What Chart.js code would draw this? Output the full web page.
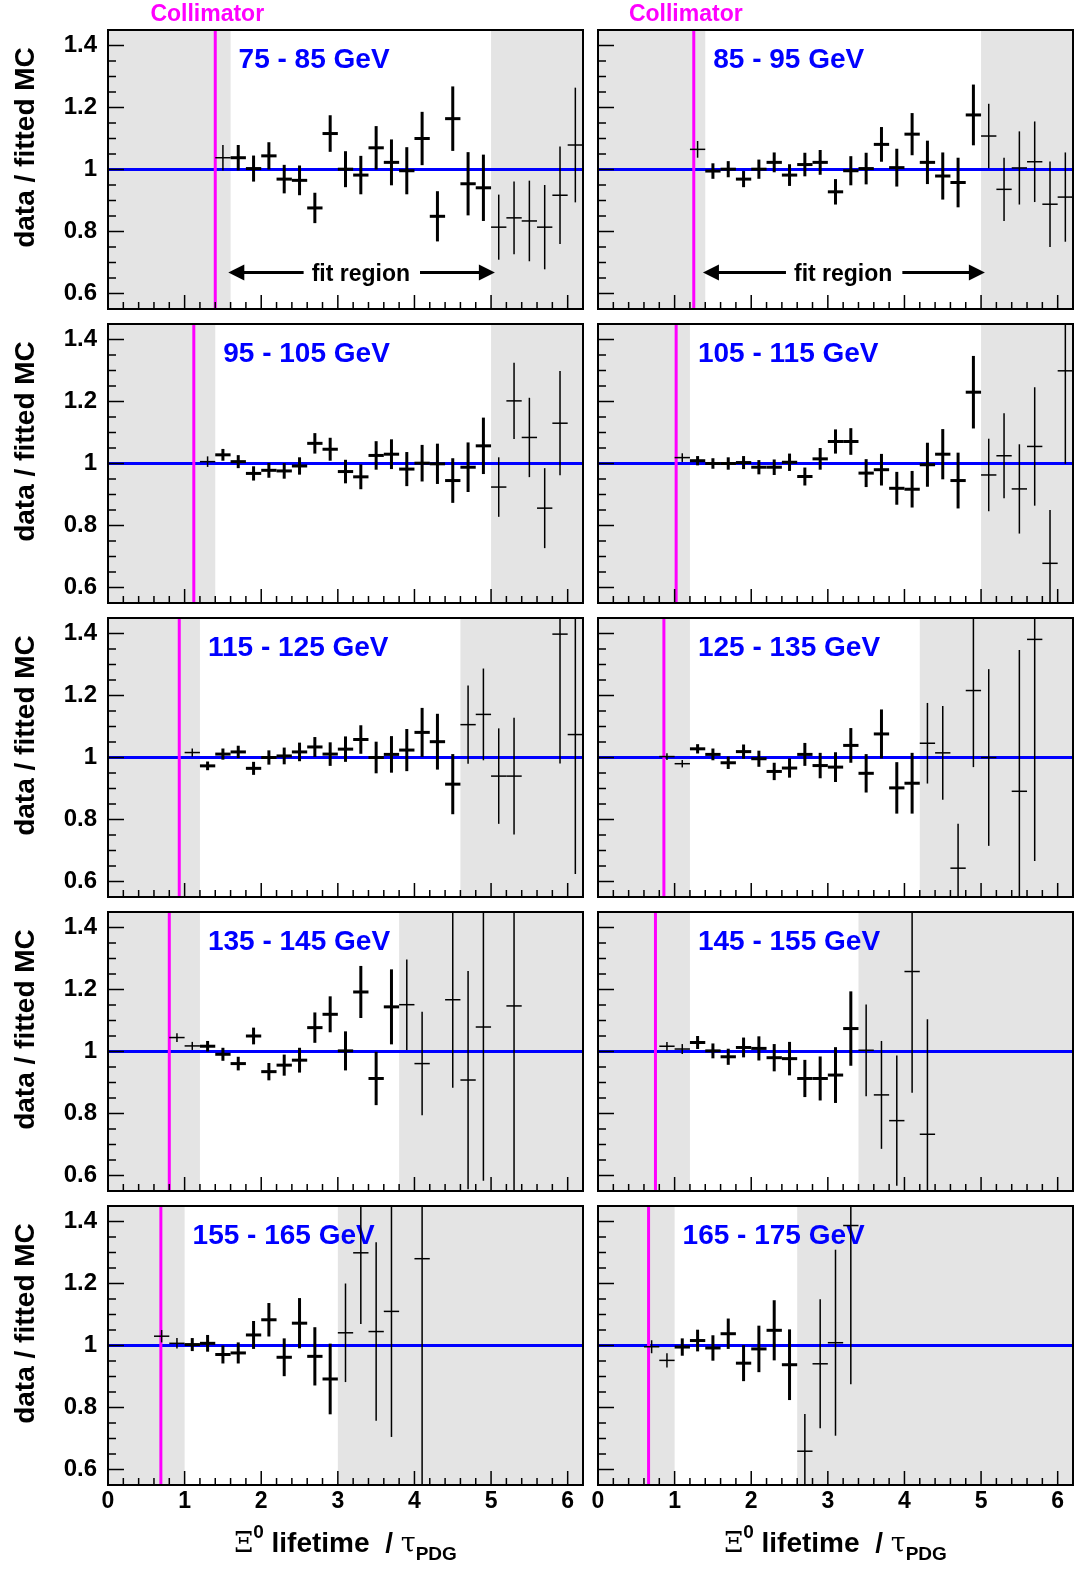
<!DOCTYPE html>
<html>
<head>
<meta charset="utf-8">
<script src="https://cdn.jsdelivr.net/npm/chart.js@4.4.0/dist/chart.umd.min.js"></script>
<style>
  body { margin: 0; background: #fff; width: 1075px; height: 1571px; position: relative; overflow: hidden; }
  canvas { position: absolute; }
</style>
</head>
<body>
<script>
// energy bins, one panel each
const energyBins = ['75 - 85 GeV', '85 - 95 GeV', '95 - 105 GeV', '105 - 115 GeV', '115 - 125 GeV',
                    '125 - 135 GeV', '135 - 145 GeV', '145 - 155 GeV', '155 - 165 GeV', '165 - 175 GeV'];
// collimator position and fit region (in units of tau_PDG)
const collimatorPos = [1.40, 1.25, 1.12, 1.02, 0.93, 0.86, 0.80, 0.75, 0.69, 0.66];
const fitLow  = [1.6, 1.4, 1.4, 1.2, 1.2, 1.2, 1.2, 1.2, 1.0, 1.0];
const fitHigh = [5.0, 5.0, 5.0, 5.0, 4.6, 4.2, 3.8, 3.4, 3.0, 2.6];
const binHalfWidth = 0.1;

const tau75   = [1.5,1.7,1.9,2.1,2.3,2.5,2.7,2.9,3.1,3.3,3.5,3.7,3.9,4.1,4.3,4.5,4.7,4.9,5.1,5.3,5.5,5.7,5.9,6.1];
const ratio75 = [1.038,1.038,1.003,1.044,0.969,0.965,0.876,1.116,1.001,0.982,1.070,1.023,0.996,1.100,0.849,1.164,0.954,0.941,0.814,0.844,0.834,0.814,0.917,1.079];
const err75   = [0.041,0.041,0.042,0.044,0.046,0.048,0.049,0.059,0.058,0.062,0.070,0.074,0.076,0.086,0.081,0.104,0.102,0.107,0.105,0.117,0.130,0.136,0.157,0.185];

const tau85   = [1.3,1.5,1.7,1.9,2.1,2.3,2.5,2.7,2.9,3.1,3.3,3.5,3.7,3.9,4.1,4.3,4.5,4.7,4.9,5.1,5.3,5.5,5.7,5.9,6.1];
const ratio85 = [1.065,0.995,1.001,0.969,1.001,1.023,0.982,1.016,1.023,0.928,0.996,1.003,1.081,1.006,1.114,1.023,0.979,0.958,1.176,1.108,0.936,1.005,1.025,0.888,0.911];
const err85   = [0.027,0.025,0.026,0.026,0.031,0.032,0.035,0.038,0.040,0.041,0.047,0.051,0.056,0.061,0.068,0.070,0.076,0.080,0.098,0.104,0.102,0.118,0.130,0.138,0.144];

const tau95   = [1.3,1.5,1.7,1.9,2.1,2.3,2.5,2.7,2.9,3.1,3.3,3.5,3.7,3.9,4.1,4.3,4.5,4.7,4.9,5.1,5.3,5.5,5.7,5.9];
const ratio95 = [1.006,1.028,1.006,0.968,0.978,0.976,0.992,1.065,1.046,0.974,0.957,1.026,1.030,0.982,1.001,0.999,0.945,0.988,1.057,0.924,1.202,1.084,0.856,1.130];
const err95   = [0.017,0.019,0.021,0.023,0.024,0.025,0.028,0.033,0.037,0.038,0.040,0.046,0.048,0.055,0.059,0.065,0.072,0.080,0.091,0.096,0.123,0.128,0.129,0.168];

const tau105   = [1.1,1.3,1.5,1.7,1.9,2.1,2.3,2.5,2.7,2.9,3.1,3.3,3.5,3.7,3.9,4.1,4.3,4.5,4.7,4.9,5.1,5.3,5.5,5.7,5.9,6.1];
const ratio105 = [1.019,1.009,1.000,1.000,1.003,0.988,0.988,1.004,0.958,1.015,1.071,1.071,0.969,0.980,0.920,0.917,0.996,1.030,0.945,1.230,0.963,1.025,0.918,1.055,0.678,1.299];
const err105   = [0.014,0.015,0.017,0.020,0.021,0.023,0.025,0.028,0.029,0.035,0.039,0.043,0.045,0.051,0.053,0.059,0.071,0.081,0.090,0.117,0.117,0.137,0.144,0.191,0.172,0.300];

const tau115   = [1.1,1.3,1.5,1.7,1.9,2.1,2.3,2.5,2.7,2.9,3.1,3.3,3.5,3.7,3.9,4.1,4.3,4.5,4.7,4.9,5.1,5.3,5.9,6.1];
const ratio115 = [1.016,0.973,1.011,1.018,0.965,1.000,1.005,1.018,1.034,1.011,1.027,1.058,1.000,1.010,1.024,1.081,1.051,0.914,1.106,1.139,0.940,0.940,1.398,1.074];
const err115   = [0.013,0.014,0.018,0.020,0.021,0.023,0.027,0.030,0.032,0.038,0.041,0.046,0.051,0.059,0.068,0.079,0.090,0.097,0.126,0.148,0.154,0.188,0.417,0.450];

const tau125   = [0.9,1.1,1.3,1.5,1.7,1.9,2.1,2.3,2.5,2.7,2.9,3.1,3.3,3.5,3.7,3.9,4.1,4.3,4.5,4.7,4.9,5.1,5.5,5.7];
const ratio125 = [1.003,0.980,1.028,1.010,0.983,1.019,0.996,0.955,0.966,1.010,0.974,0.969,1.039,0.949,1.076,0.902,0.917,1.046,1.015,0.643,1.216,1.000,0.891,1.381];
const err125   = [0.011,0.012,0.015,0.019,0.020,0.023,0.026,0.028,0.031,0.037,0.041,0.048,0.056,0.062,0.079,0.083,0.098,0.130,0.151,0.143,0.247,0.285,0.456,0.715];

const tau135   = [0.9,1.1,1.3,1.5,1.7,1.9,2.1,2.3,2.5,2.7,2.9,3.1,3.3,3.5,3.7,3.9,4.1,4.5,4.7,4.9,5.3];
const ratio135 = [1.045,1.018,1.017,0.991,0.961,1.050,0.935,0.956,0.972,1.077,1.120,1.002,1.192,0.913,1.144,1.151,0.961,1.167,0.908,1.079,1.147];
const err135   = [0.014,0.013,0.017,0.021,0.022,0.027,0.028,0.034,0.040,0.049,0.058,0.063,0.084,0.086,0.121,0.146,0.167,0.284,0.352,0.496,0.600];

const tau145   = [0.9,1.1,1.3,1.5,1.7,1.9,2.1,2.3,2.5,2.7,2.9,3.1,3.3,3.5,3.7,3.9,4.1,4.3];
const ratio145 = [1.017,1.008,1.029,1.002,0.983,1.013,1.010,0.980,0.977,0.913,0.913,0.924,1.074,1.004,0.860,0.777,1.258,0.733];
const err145   = [0.014,0.016,0.021,0.024,0.026,0.032,0.039,0.044,0.054,0.060,0.071,0.090,0.120,0.148,0.174,0.210,0.391,0.371];

const tau155   = [0.7,0.9,1.1,1.3,1.5,1.7,1.9,2.1,2.3,2.5,2.7,2.9,3.1,3.3,3.5,3.7,4.1];
const ratio155 = [1.030,1.007,1.003,1.007,0.971,0.976,1.034,1.083,0.962,1.072,0.965,0.892,1.041,1.299,1.045,1.110,1.280];
const err155   = [0.020,0.017,0.021,0.027,0.029,0.034,0.045,0.054,0.061,0.081,0.094,0.114,0.159,0.230,0.288,0.405,0.800];

const tau165   = [0.7,0.9,1.1,1.3,1.5,1.7,1.9,2.1,2.3,2.5,2.7,2.9,3.1,3.3];
const ratio165 = [0.996,0.952,0.995,1.016,0.992,1.038,0.943,0.989,1.049,0.938,0.659,0.941,1.009,1.387];
const err165   = [0.021,0.023,0.028,0.035,0.041,0.049,0.058,0.075,0.097,0.114,0.120,0.208,0.300,0.512];

const xTicks = [0, 1, 2, 3, 4, 5, 6];
const yTicks = [0.6, 0.8, 1, 1.2, 1.4];

const series = [
  [tau75, ratio75, err75], [tau85, ratio85, err85], [tau95, ratio95, err95], [tau105, ratio105, err105],
  [tau115, ratio115, err115], [tau125, ratio125, err125], [tau135, ratio135, err135], [tau145, ratio145, err145],
  [tau155, ratio155, err155], [tau165, ratio165, err165]
];

const FONT = '"Liberation Sans", Arial, Helvetica, sans-serif';
Chart.defaults.font.family = FONT;
Chart.defaults.animation = false;

function seg(ctx, x0, y0, x1, y1) {
  ctx.beginPath(); ctx.moveTo(x0, y0); ctx.lineTo(x1, y1); ctx.stroke();
}

function arrowHead(ctx, x, y, dir) {
  ctx.beginPath();
  ctx.moveTo(x, y);
  ctx.lineTo(x - dir * 16, y - 8);
  ctx.lineTo(x - dir * 16, y + 8);
  ctx.closePath();
  ctx.fill();
}

function drawXTitle(ctx, cx, base) {
  const parts = [
    { t: '\u039E', f: '27px "DejaVu Serif"', dy: 0 },
    { t: '0', f: 'bold 19px ' + FONT, dy: -14 },
    { t: ' lifetime  / ', f: 'bold 28px ' + FONT, dy: 0 },
    { t: '\u03C4', f: '27px "DejaVu Serif"', dy: 0 },
    { t: 'PDG', f: 'bold 19px ' + FONT, dy: 8 }
  ];
  let total = 0;
  parts.forEach(p => { ctx.font = p.f; p.w = ctx.measureText(p.t).width; total += p.w; });
  let x = cx - total / 2;
  ctx.fillStyle = '#000';
  ctx.textAlign = 'left';
  ctx.textBaseline = 'alphabetic';
  parts.forEach(p => { ctx.font = p.f; ctx.fillText(p.t, x, base + p.dy); x += p.w; });
}

const panelDecor = {
  id: 'panelDecor',
  beforeDatasetsDraw(chart, args, o) {
    const ctx = chart.ctx, a = chart.chartArea, xs = chart.scales.x, ys = chart.scales.y;
    const xl = xs.getPixelForValue(o.fitLo), xh = xs.getPixelForValue(o.fitHi);
    const xc = xs.getPixelForValue(o.collimator);
    ctx.save();
    ctx.beginPath(); ctx.rect(a.left, a.top, a.right - a.left, a.bottom - a.top); ctx.clip();
    ctx.fillStyle = '#e4e4e4';
    ctx.fillRect(a.left, a.top, xl - a.left, a.bottom - a.top);
    ctx.fillRect(xh, a.top, a.right - xh, a.bottom - a.top);

    ctx.fillStyle = '#0000ff';
    ctx.font = 'bold 28px ' + FONT;
    ctx.textAlign = 'left'; ctx.textBaseline = 'alphabetic';
    ctx.fillText(o.label, xl + 8, a.top + 38);

    if (o.top) {
      // "fit region" arrows
      const ay = ys.getPixelForValue(0.668);
      const x0 = xs.getPixelForValue(o.fitLo - 0.03), x1 = xs.getPixelForValue(o.fitHi + 0.05);
      const mid = xs.getPixelForValue((o.fitLo + o.fitHi) / 2);
      ctx.font = 'bold 23px ' + FONT;
      const tw = ctx.measureText('fit region').width;
      ctx.fillStyle = '#000'; ctx.strokeStyle = '#000'; ctx.lineWidth = 3;
      ctx.textAlign = 'center';
      ctx.fillText('fit region', mid, ay + 9);
      seg(ctx, x0 + 10, ay, mid - tw / 2 - 8, ay);
      seg(ctx, mid + tw / 2 + 10, ay, x1 - 10, ay);
      arrowHead(ctx, x0, ay, -1);
      arrowHead(ctx, x1, ay, 1);
    }

    const y1 = ys.getPixelForValue(1);
    ctx.lineWidth = 3;
    ctx.strokeStyle = '#0000ff';
    seg(ctx, a.left, y1, a.right, y1);
    ctx.strokeStyle = '#ff00ff';
    seg(ctx, xc, a.top, xc, a.bottom);
    ctx.restore();

    if (o.top) {
      ctx.save();
      ctx.fillStyle = '#ff00ff';
      ctx.font = 'bold 23px ' + FONT;
      ctx.textAlign = 'center'; ctx.textBaseline = 'alphabetic';
      ctx.fillText('Collimator', xc - 8, a.top - 9);
      ctx.restore();
    }
  },
  afterDatasetsDraw(chart, args, o) {
    const ctx = chart.ctx, a = chart.chartArea, xs = chart.scales.x, ys = chart.scales.y;
    const meta = chart.getDatasetMeta(0);
    const pts = chart.data.datasets[0].data;
    ctx.save();
    ctx.beginPath(); ctx.rect(a.left, a.top, a.right - a.left, a.bottom - a.top); ctx.clip();
    ctx.strokeStyle = '#000';
    pts.forEach((d, k) => {
      const el = meta.data[k];
      const inFit = d.x - binHalfWidth >= o.fitLo - 1e-6 && d.x + binHalfWidth <= o.fitHi + 1e-6;
      ctx.lineWidth = inFit ? 3 : 1.5;
      seg(ctx, xs.getPixelForValue(d.x - binHalfWidth), el.y, xs.getPixelForValue(d.x + binHalfWidth), el.y);
      seg(ctx, el.x, ys.getPixelForValue(d.y - d.e), el.x, ys.getPixelForValue(d.y + d.e));
    });
    ctx.restore();
  },
  afterDraw(chart, args, o) {
    const ctx = chart.ctx, a = chart.chartArea, xs = chart.scales.x, ys = chart.scales.y;
    ctx.save();
    ctx.strokeStyle = '#000';
    ctx.lineWidth = 1.5;
    for (let k = 11; k <= 29; k++) {
      const py = ys.getPixelForValue(k * 0.05);
      seg(ctx, a.left, py, a.left + (k % 4 === 0 ? 16 : 8), py);
    }
    for (let k = 1; k <= 30; k++) {
      const px = xs.getPixelForValue(k * 0.2);
      seg(ctx, px, a.bottom, px, a.bottom - (k % 5 === 0 ? 14 : 7));
    }
    ctx.lineWidth = 2;
    ctx.strokeRect(a.left, a.top, a.right - a.left, a.bottom - a.top);

    if (o.left) {
      ctx.save();
      ctx.translate(26, (a.top + a.bottom) / 2 - 22);
      ctx.rotate(-Math.PI / 2);
      ctx.fillStyle = '#000';
      ctx.font = 'bold 28px ' + FONT;
      ctx.textAlign = 'center'; ctx.textBaseline = 'middle';
      ctx.fillText('data / fitted MC', 0, 0);
      ctx.restore();
    }
    if (o.bottom) {
      drawXTitle(ctx, (a.left + a.right) / 2, a.bottom + 67);
    }
    ctx.restore();
  }
};

const areaTops = [30, 324, 618, 912, 1206];
const areaHeight = 279;

energyBins.forEach((label, i) => {
  const row = Math.floor(i / 2), col = i % 2;
  const isLeft = col === 0, isTop = row === 0, isBottom = row === 4;
  const padTop = isTop ? 30 : 6;
  const padBottom = isBottom ? 0 : 6;
  const xAxisH = isBottom ? 86 : 0;
  const yAxisW = isLeft ? 108 : 0;
  const cw = isLeft ? 590 : 485;
  const ch = padTop + areaHeight + xAxisH + padBottom;

  const canvas = document.createElement('canvas');
  canvas.width = cw; canvas.height = ch;
  canvas.style.width = cw + 'px'; canvas.style.height = ch + 'px';
  canvas.style.left = (isLeft ? 0 : 590) + 'px';
  canvas.style.top = (areaTops[row] - padTop) + 'px';
  document.body.appendChild(canvas);

  const [tau, ratio, err] = series[i];

  new Chart(canvas, {
    type: 'scatter',
    data: {
      datasets: [{
        data: tau.map((t, k) => ({ x: t, y: ratio[k], e: err[k] })),
        pointRadius: 0,
        showLine: false
      }]
    },
    options: {
      responsive: false,
      devicePixelRatio: 1,
      layout: {
        autoPadding: false,
        padding: { top: padTop, bottom: padBottom, left: isLeft ? 0 : 8, right: isLeft ? 7 : 2 }
      },
      scales: {
        x: {
          type: 'linear',
          min: 0, max: 6.2,
          display: isBottom,
          grid: { display: false, drawTicks: false },
          border: { display: false },
          afterBuildTicks: s => { s.ticks = xTicks.map(v => ({ value: v })); },
          afterFit: s => { s.height = xAxisH; s.paddingLeft = 0; s.paddingRight = 0; },
          ticks: {
            autoSkip: false, maxRotation: 0, padding: 3,
            color: '#000', font: { size: 23, weight: 'bold' }
          }
        },
        y: {
          type: 'linear',
          min: 0.55, max: 1.45,
          display: isLeft,
          grid: { display: false, drawTicks: false },
          border: { display: false },
          afterBuildTicks: s => { s.ticks = yTicks.map(v => ({ value: v })); },
          afterFit: s => { s.width = yAxisW; s.paddingTop = 0; s.paddingBottom = 0; },
          ticks: {
            autoSkip: false, padding: 11,
            color: '#000', font: { size: 24, weight: 'bold' },
            callback: v => String(v)
          }
        }
      },
      plugins: {
        legend: { display: false },
        tooltip: { enabled: false },
        panelDecor: {
          label: label,
          collimator: collimatorPos[i],
          fitLo: fitLow[i],
          fitHi: fitHigh[i],
          top: isTop, left: isLeft, bottom: isBottom
        }
      }
    },
    plugins: [panelDecor]
  });
});
</script>
</body>
</html>
